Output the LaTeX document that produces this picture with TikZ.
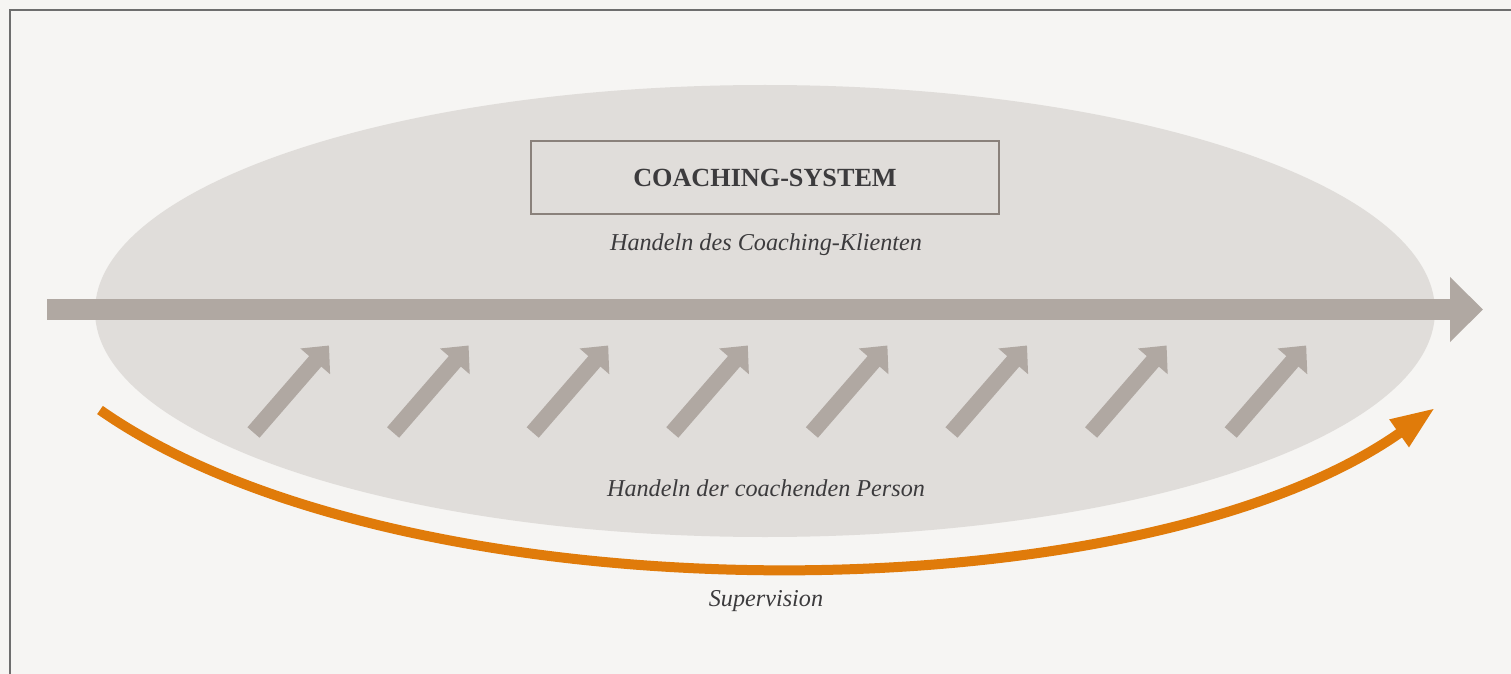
\documentclass[tikz,border=0pt]{standalone}
\usepackage{fontspec}
\setmainfont{Liberation Serif}
\usetikzlibrary{arrows.meta}
\definecolor{bgcol}{HTML}{F6F5F3}
\definecolor{ellcol}{HTML}{E0DDDA}
\definecolor{arrcol}{HTML}{B0A8A2}
\definecolor{orcol}{HTML}{E07B0A}
\definecolor{txtcol}{HTML}{3C3B3D}
\definecolor{framecol}{HTML}{6E6E6E}
\definecolor{boxcol}{HTML}{8A817B}
\tikzset{
  lbl/.style={text=txtcol, font=\fontsize{12.1}{15}\selectfont\itshape, inner sep=0pt},
  titlebox/.style={draw=boxcol, line width=0.7pt, fill=ellcol, text=txtcol,
    font=\fontsize{13.1}{15}\selectfont\bfseries, minimum width=234pt, minimum height=36.5pt, inner sep=0pt},
  mainarrow/.style={draw=arrcol, line width=10.5pt, -{Triangle[length=16.5pt,width=31.5pt]}},
  smallarrow/.style={draw=arrcol, line width=8pt, -{Triangle[length=10.5pt,width=19pt]}},
  suparrow/.style={draw=orcol, line width=5pt, -{Triangle[length=22pt,width=15.5pt]}},
}
\begin{document}
\begin{tikzpicture}[x=0.5pt,y=-0.5pt]
\useasboundingbox (0,0) rectangle (1511,674);
\fill[bgcol] (0,0) rectangle (1511,674);
\draw[framecol, line width=1pt] (10,674) -- (10,10) -- (1511,10);
\fill[ellcol] (765,311) ellipse [x radius=670, y radius=226];
% main arrow
\coordinate (mstart) at (47,309.5);
\coordinate (mend) at (1483,309.5);
\draw[mainarrow] (mstart) -- (mend);
% small arrows
\foreach \i in {0,...,7} {
  \coordinate (s\i) at ({253.5+139.6*\i},432.5);
  \coordinate (t\i) at ({329+139.6*\i},345.5);
  \draw[smallarrow] (s\i) -- (t\i);
}
% supervision arc
\coordinate (ostart) at (100,410);
\coordinate (oend) at (1435,408);
\draw[suparrow] (ostart) .. controls (400,620) and (1135,620) .. (oend);
% texts
\node[titlebox] (title) at (765,177.5) {COACHING-SYSTEM};
\node[lbl] (klient) at (766,245) {Handeln des Coaching-Klienten};
\node[lbl] (person) at (766,488) {Handeln der coachenden Person};
\node[lbl] (superv) at (766,601) {Supervision};
\end{tikzpicture}
\end{document}
